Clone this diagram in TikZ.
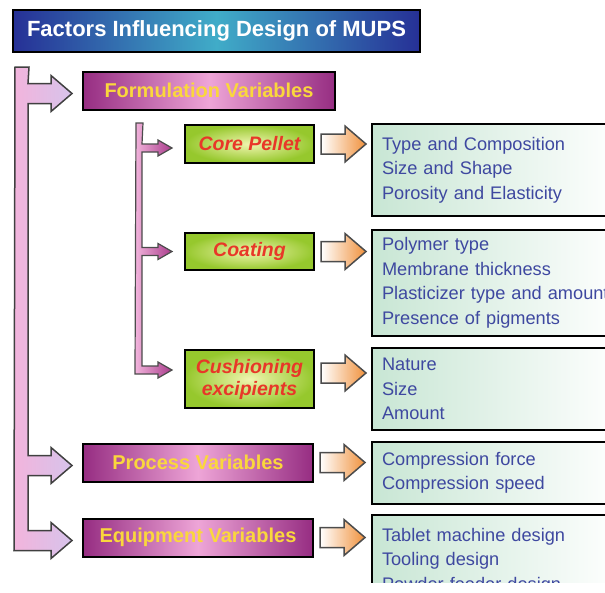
\documentclass[tikz,border=0pt]{standalone}
\usepackage{fontspec}
\setmainfont{Liberation Sans}
\usetikzlibrary{
    calc,
    positioning
}
\definecolor{titleblue}{RGB}{38, 48, 150}
\definecolor{titleteal}{RGB}{64, 172, 200}
\definecolor{varpurple}{RGB}{150, 45, 130}
\definecolor{varpink}{RGB}{238, 165, 215}
\definecolor{varyellow}{RGB}{250, 215, 60}
\definecolor{coregreen}{RGB}{150, 200, 45}
\definecolor{coreyellow}{RGB}{240, 245, 175}
\definecolor{corered}{RGB}{232, 55, 40}
\definecolor{detmint}{RGB}{200, 230, 212}
\definecolor{detblue}{RGB}{62, 72, 160}
\definecolor{arrorange}{RGB}{240, 145, 60}
\definecolor{branchpink}{RGB}{242, 180, 220}
\definecolor{branchlilac}{RGB}{215, 195, 235}
\definecolor{submagenta}{RGB}{170, 60, 140}

% hollow orange block arrow after a box
\newcommand{\orarrow}[2][0]{%
    \path[orangearr] ($#2+(6,#1-10)$) -- ++(24,0) -- ++(0,-8) -- ++(21,18) -- ++(-21,18) -- ++(0,-8) -- ++(-24,0) -- cycle;}

\begin{document}
\begin{tikzpicture}[
        x=1pt, y=-1pt,
        titlebox/.style={rectangle, draw=black, line width=2pt, left color=titleblue, right color=titleblue, middle color=titleteal, minimum width=407pt, minimum height=42pt, text=white, font=\fontsize{22}{25}\selectfont\bfseries},
        varbox/.style={rectangle, draw=black, line width=2pt, left color=varpurple, right color=varpurple, middle color=varpink, minimum height=38pt, text=varyellow, font=\fontsize{20}{23}\selectfont\bfseries},
        factorbox/.style={rectangle, draw=black, line width=2pt, inner color=coreyellow, outer color=coregreen, minimum width=129pt, align=center, text=corered, font=\fontsize{19.5}{22}\selectfont\bfseries\itshape},
        detailbox/.style={rectangle, draw=black, line width=2pt, anchor=north west, left color=detmint, right color=white, text width=230pt, inner xsep=10pt, align=left, text=detblue, font=\fontsize{18.2}{24.5}\selectfont},
        orangearr/.style={draw=black!70, line width=1.5pt, left color=white, right color=arrorange},
        pinkbranch/.style={draw=black!75, line width=1.5pt, left color=branchpink, right color=branchlilac},
        subbranch/.style={draw=black!70, line width=1.2pt, left color=branchpink, right color=submagenta},
        bighead/.style={insert path={-- ++(23,0) -- ++(0,-8) -- ++(21,18) -- ++(-21,18) -- ++(0,-8)}},
        smallhead/.style={insert path={-- ++(16,0) -- ++(0,-4) -- ++(14,8) -- ++(-14,8) -- ++(0,-4)}}
    ]
    \useasboundingbox (0,0) rectangle (605,592);
    \begin{scope}
        \clip (0,0) rectangle (605,582);

        \node[titlebox] (title) at (216.5,31) {Factors Influencing Design of MUPS};

        \node[varbox, minimum width=252pt] (form) at (209,90.5) {Formulation Variables};
        \node[varbox, minimum width=230pt] (proc) at (198,462.5) {Process Variables};
        \node[varbox, minimum width=230pt] (equip) at (198,537.5) {Equipment Variables};

        \node[factorbox, minimum height=38pt] (core) at (249.5,144) {Core Pellet};
        \node[factorbox, minimum height=37pt] (coat) at (249.5,251.5) {Coating};
        \node[factorbox, minimum height=58pt] (cush) at (249.5,379) {Cushioning\\excipients};

        \node[detailbox, minimum height=92pt] (coredet) at (371,123) {Type and Composition\\Size and Shape\\Porosity and Elasticity};
        \node[detailbox, minimum height=106pt] (coatdet) at (371,229) {Polymer type\\Membrane thickness\\Plasticizer type and amount\\Presence of pigments};
        \node[detailbox, minimum height=82pt] (cushdet) at (371,347) {Nature\\Size\\Amount};
        \node[detailbox, minimum height=62pt] (procdet) at (371,441) {Compression force\\Compression speed};
        \node[detailbox, minimum height=92pt] (equipdet) at (371,514) {Tablet machine design\\Tooling design\\Powder feeder design};

        % main branch
        \coordinate (formarm) at ($(form.west)+(-54,-7)$);
        \coordinate (procarm) at ($(proc.west)+(-54,-7)$);
        \coordinate (equiparm) at ($(equip.west)+(-54,-7)$);
        \path[pinkbranch] (15,67) -- (29,67) -- (formarm) [bighead] -- ++(-23,0)
            -- (procarm) [bighead] -- ++(-23,0)
            -- (equiparm) [bighead] -- ++(-37,0) -- cycle;

        % formulation sub-branch
        \coordinate (corearm) at ($(core.west)+(-42,0)$);
        \coordinate (coatarm) at ($(coat.west)+(-42,-4)$);
        \coordinate (cusharm) at ($(cush.west)+(-42,-13)$);
        \path[subbranch] (136,123) -- (143,123) -- (corearm) [smallhead] -- ++(-16,0)
            -- (coatarm) [smallhead] -- ++(-16,0)
            -- (cusharm) [smallhead] -- ++(-23,0) -- cycle;

        \orarrow{(core.east)}
        \orarrow{(coat.east)}
        \orarrow[-6]{(cush.east)}
        \orarrow{(proc.east)}
        \orarrow{(equip.east)}
    \end{scope}
\end{tikzpicture}
\end{document}
